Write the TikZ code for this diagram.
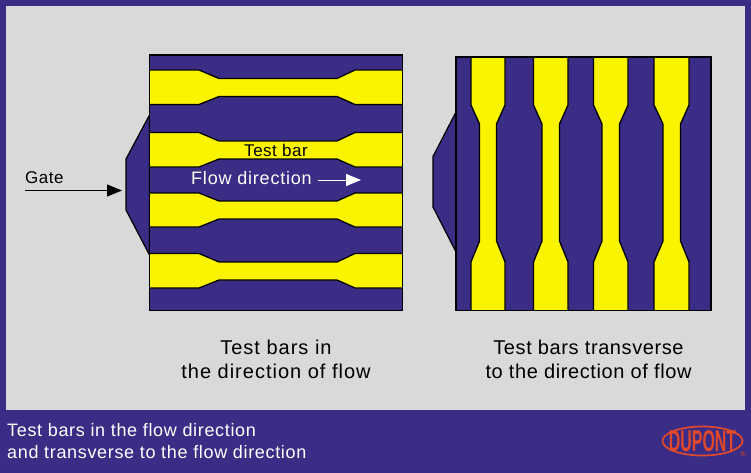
\documentclass[tikz,border=0pt]{standalone}
\usepackage{fontspec}
\setmainfont{Liberation Sans}
\usetikzlibrary{arrows.meta}
\definecolor{dupurple}{HTML}{3B2C85}
\definecolor{dugray}{HTML}{D9D9D9}
\definecolor{duyellow}{HTML}{FBF400}
\definecolor{dured}{HTML}{E2492B}
\tikzset{
  x=1pt,y=-1pt,
  part/.style={draw=black,line width=1.2pt,fill=dupurple,line join=miter},
  edge/.style={line width=1.3pt,line join=miter},
  caption/.style={align=center,font=\fontsize{20}{24}\selectfont\addfontfeatures{LetterSpace=#1},text=black,inner sep=0pt},
  foot/.style={align=left,anchor=north west,font=\fontsize{18}{22}\selectfont\addfontfeatures{LetterSpace=3.7},text=white,inner sep=0pt},
  lab/.style={font=\fontsize{17}{18}\selectfont\addfontfeatures{LetterSpace=3},inner sep=0pt},
  flowlab/.style={font=\fontsize{18}{18}\selectfont\addfontfeatures{LetterSpace=4.4},inner sep=0pt},
}
\newcommand{\hzbar}[4]{% top, bottom, narrow top, narrow bottom
  \fill[duyellow] (150,#1) -- (199,#1) -- (219,#3) -- (337,#3) -- (355,#1) -- (402,#1) -- (402,#2) -- (355,#2) -- (337,#4) -- (219,#4) -- (199,#2) -- (150,#2) -- cycle;
  \draw[edge] (150,#1) -- (199,#1) -- (219,#3) -- (337,#3) -- (355,#1) -- (402,#1);
  \draw[edge] (150,#2) -- (199,#2) -- (219,#4) -- (337,#4) -- (355,#2) -- (402,#2);
}
\newcommand{\vtbar}[4]{% left, right, narrow left, narrow right
  \fill[duyellow] (#1,57.5) -- (#1,105) -- (#3,124) -- (#3,241) -- (#1,262) -- (#1,310) -- (#2,310) -- (#2,262) -- (#4,241) -- (#4,124) -- (#2,105) -- (#2,57.5) -- cycle;
  \draw[edge] (#1,57.5) -- (#1,105) -- (#3,124) -- (#3,241) -- (#1,262) -- (#1,310);
  \draw[edge] (#2,57.5) -- (#2,105) -- (#4,124) -- (#4,241) -- (#2,262) -- (#2,310);
}
\begin{document}
\begin{tikzpicture}
\useasboundingbox (0,0) rectangle (751,473);
\fill[dupurple] (0,0) rectangle (751,473);
\fill[dugray] (6,6) rectangle (745,410);
% left mould
\draw[part] (149.5,115) -- (126,159) -- (126,210) -- (149.5,255) -- cycle;
\draw[part] (149.5,55) rectangle (402.5,310.5);
\hzbar{70}{104.5}{78.5}{96.5}
\hzbar{132.5}{167}{141}{159}
\hzbar{193}{227}{201}{219}
\hzbar{253.5}{288}{262}{280}
\draw[part,fill=none] (149.5,55) rectangle (402.5,310.5);
% right mould
\draw[part] (456,112) -- (433,156.5) -- (433,207) -- (456,252) -- cycle;
\draw[part] (456,57) rectangle (711,310.5);
\vtbar{471}{505}{479.5}{496.5}
\vtbar{533.5}{568}{542}{559.5}
\vtbar{593.5}{628}{602}{619.5}
\vtbar{654}{689}{663}{680.5}
\draw[part,fill=none] (456,57) rectangle (711,310.5);
% labels
\node[lab,text=black] (testbar) at (276,150) {Test bar};
\node[flowlab,text=white,anchor=west] (flow) at (191,178.5) {Flow direction};
\coordinate (flowA) at (318,180);
\coordinate (flowB) at (361,180);
\draw[white,line width=1pt,-{Triangle[length=15pt,width=12pt]}] (flowA) -- (flowB);
\node[lab,text=black,anchor=west] (gate) at (25,177.5) {Gate};
\coordinate (gateA) at (25,190.5);
\coordinate (gateB) at (122,190.5);
\draw[black,line width=1pt,-{Triangle[length=15pt,width=12pt]}] (gateA) -- (gateB);
\node[caption=5] (capL) at (276,359) {Test bars in\\the direction of flow};
\node[caption=3] (capR) at (588.5,359) {Test bars transverse\\to the direction of flow};
\node[foot] (footer) at (7,423) {Test bars in the flow direction\\and transverse to the flow direction};
% logo
\draw[dured,line width=1.7pt] (702.5,441) ellipse [x radius=40,y radius=14.5];
\node[text=dured,inner sep=0pt] (logo) at (702.5,441) {\fontsize{30}{30}\selectfont\bfseries\scalebox{0.53}[1]{DUPONT}};
\node[text=dured,inner sep=0pt] (reg) at (743,454) {\fontsize{7}{7}\selectfont ®};
\end{tikzpicture}
\end{document}
